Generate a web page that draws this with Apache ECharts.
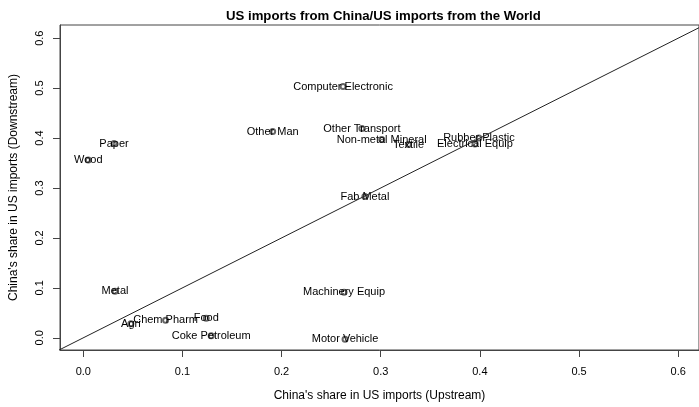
<!DOCTYPE html>
<html>
<head>
<meta charset="utf-8">
<script src="https://cdn.jsdelivr.net/npm/echarts@6/dist/echarts.min.js"></script>
<style>
  html, body { margin: 0; padding: 0; background: #fff; }
  #chart { width: 699px; height: 407px; }
</style>
</head>
<body>
<div id="chart"></div>
<script>
// industries
const industries = [
  'Computer Electronic', 'Other Man', 'Other Transport', 'Non-metal Mineral',
  'Textile', 'Rubber Plastic', 'Electrical Equip', 'Fab Metal', 'Paper', 'Wood',
  'Metal', 'Machinery Equip', 'Agri', 'Chem Pharm', 'Food', 'Coke Petroleum',
  'Motor Vehicle'
]
const upstream = [
  0.262, 0.191, 0.281, 0.301,
  0.328, 0.399, 0.395, 0.284, 0.031, 0.005,
  0.032, 0.263, 0.048, 0.083, 0.124, 0.129,
  0.264
]
const downstream = [
  0.503, 0.413, 0.419, 0.397,
  0.387, 0.400, 0.388, 0.283, 0.389, 0.356,
  0.093, 0.091, 0.028, 0.035, 0.039, 0.004,
  -0.003
]
const tickValues = [0, 0.1, 0.2, 0.3, 0.4, 0.5, 0.6]
const axisMin = -0.0235
const axisMax = 0.621
const yMin = -0.0244
const yMax = 0.6264

const chart = echarts.init(document.getElementById('chart'))

const points = industries.map((name, i) => ({ name, value: [upstream[i], downstream[i]] }))

const font = 'Liberation Sans, Arial, Helvetica, sans-serif'

const option = {
  backgroundColor: '#fff',
  animation: false,
  title: {
    text: 'US imports from China/US imports from the World',
    left: 221,
    top: 5,
    textStyle: {
      fontFamily: font,
      fontSize: 13.2,
      fontWeight: 'bold',
      color: '#000',
    },
  },
  grid: {
    left: 59,
    right: -1,
    top: 25,
    bottom: 54,
    show: true,
    borderColor: '#444',
    borderWidth: 1,
    containLabel: false,
  },
  xAxis: {
    type: 'value',
    min: axisMin,
    max: axisMax,
    name: "China's share in US imports (Upstream)",
    nameLocation: 'middle',
    nameGap: 40,
    nameTextStyle: { fontFamily: font, fontSize: 12, color: '#000' },
    axisLine: { show: true, onZero: false, lineStyle: { color: '#444' } },
    axisTick: {
      show: true,
      length: 7,
      customValues: tickValues,
      lineStyle: { color: '#444' },
    },
    axisLabel: {
      customValues: tickValues,
      margin: 16,
      fontFamily: font,
      fontSize: 11,
      color: '#000',
      formatter: (v) => v.toFixed(1),
    },
    splitLine: { show: false },
  },
  yAxis: {
    type: 'value',
    min: yMin,
    max: yMax,
    name: "China's share in US imports (Downstream)",
    nameLocation: 'middle',
    nameGap: 40,
    nameRotate: 90,
    nameTextStyle: { fontFamily: font, fontSize: 12, color: '#000' },
    axisLine: { show: true, onZero: false, lineStyle: { color: '#444' } },
    axisTick: {
      show: true,
      length: 7,
      customValues: tickValues,
      lineStyle: { color: '#444' },
    },
    axisLabel: {
      customValues: tickValues,
      rotate: 90,
      margin: 15,
      fontFamily: font,
      fontSize: 11,
      color: '#000',
      formatter: (v) => v.toFixed(1),
    },
    splitLine: { show: false },
  },
  series: [
    {
      // 45 degree reference line y = x
      type: 'line',
      data: [[axisMin - 0.1, axisMin - 0.1], [axisMax + 0.1, axisMax + 0.1]],
      symbol: 'none',
      clip: true,
      lineStyle: { color: '#222', width: 1 },
      silent: true,
    },
    {
      type: 'scatter',
      data: points,
      symbol: 'emptyCircle',
      symbolSize: 5,
      itemStyle: { color: '#666', borderColor: '#666', borderWidth: 0.7, opacity: 1 },
      label: {
        show: true,
        position: 'inside',
        formatter: (p) => p.name,
        fontFamily: font,
        fontSize: 11,
        color: '#000',
        opacity: 1,
        textBorderWidth: 0,
        textBorderColor: 'transparent',
      },
    },
  ],
}

chart.setOption(option)
</script>
</body>
</html>
